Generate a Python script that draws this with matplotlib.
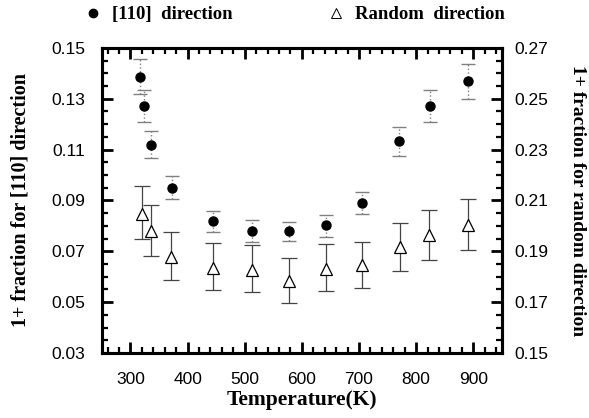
import matplotlib
matplotlib.use("Agg")
import matplotlib.pyplot as plt
from matplotlib.lines import Line2D
from matplotlib.ticker import MultipleLocator, FormatStrFormatter
import numpy as np

# [110] direction (left axis)
circ_T = [316, 323, 336, 372, 445, 513, 578, 643, 706, 770, 825, 891]
circ_val = [0.1387, 0.1273, 0.1118, 0.0950, 0.0818, 0.0780, 0.0778, 0.0802, 0.0890, 0.1135, 0.1270, 0.1368]
circ_hi = [0.1457, 0.1335, 0.1175, 0.0995, 0.0860, 0.0822, 0.0815, 0.0841, 0.0933, 0.1188, 0.1334, 0.1436]
circ_lo = [0.1320, 0.1210, 0.1065, 0.0904, 0.0775, 0.0737, 0.0740, 0.0756, 0.0845, 0.1076, 0.1207, 0.1299]

# Random direction (right axis)
tri_T = [321, 336, 371, 445, 513, 578, 643, 706, 772, 823, 891]
tri_val = [0.2048, 0.1980, 0.1878, 0.1836, 0.1828, 0.1782, 0.1832, 0.1845, 0.1917, 0.1963, 0.2005]
tri_hi = [0.2155, 0.2083, 0.1976, 0.1933, 0.1924, 0.1874, 0.1927, 0.1937, 0.2011, 0.2061, 0.2107]
tri_lo = [0.1950, 0.1883, 0.1789, 0.1747, 0.1740, 0.1695, 0.1744, 0.1754, 0.1823, 0.1865, 0.1907]

x_ticks = [300, 400, 500, 600, 700, 800, 900]
left_ticks = [0.03, 0.05, 0.07, 0.09, 0.11, 0.13, 0.15]
right_ticks = [0.15, 0.17, 0.19, 0.21, 0.23, 0.25, 0.27]

serif = "Liberation Serif"
sans = "Liberation Sans"

fig = plt.figure(figsize=(5.89, 4.18), dpi=100)
ax = fig.add_axes([0.173, 0.1555, 0.679, 0.730])
ax2 = ax.twinx()

cv = np.array(circ_val)
eb1 = ax.errorbar(circ_T, cv, yerr=[cv - np.array(circ_lo), np.array(circ_hi) - cv],
                  fmt='o', color='black', markersize=6.5, ecolor='#808080',
                  elinewidth=1.0, capsize=5, capthick=1.0, linestyle='none', zorder=3)
for c in eb1.lines[2]:
    c.set_linestyle(':')

tv = np.array(tri_val)
ax2.errorbar(tri_T, tv, yerr=[tv - np.array(tri_lo), np.array(tri_hi) - tv],
             fmt='^', color='black', markerfacecolor='white', markeredgecolor='black',
             markersize=8, markeredgewidth=0.9, ecolor='#444444',
             elinewidth=0.9, capsize=6, capthick=1.0, linestyle='none', zorder=3)

ax.set_xlim(250, 950)
ax.set_ylim(0.03, 0.15)
ax2.set_ylim(0.15, 0.27)

ax.set_xticks(x_ticks)
ax.xaxis.set_minor_locator(MultipleLocator(20))
ax.set_yticks(left_ticks)
ax.yaxis.set_minor_locator(MultipleLocator(0.005))
ax.yaxis.set_major_formatter(FormatStrFormatter('%.2f'))
ax2.set_yticks(right_ticks)
ax2.yaxis.set_minor_locator(MultipleLocator(0.005))
ax2.yaxis.set_major_formatter(FormatStrFormatter('%.2f'))

for a in (ax, ax2):
    for s in a.spines.values():
        s.set_linewidth(2.2)
ax.tick_params(axis='both', which='major', direction='in', length=8, width=2.0,
               top=True, labelsize=12.5)
ax.tick_params(axis='x', which='major', pad=14)
ax.tick_params(axis='y', which='major', pad=12)
ax.tick_params(axis='both', which='minor', direction='in', length=4.5, width=1.6, top=True)
ax.tick_params(axis='y', which='both', right=False)
ax2.tick_params(axis='y', which='major', direction='in', length=8, width=2.0, labelsize=12.5, pad=9)
ax2.tick_params(axis='y', which='minor', direction='in', length=4.5, width=1.6)
for lab in ax.get_xticklabels() + ax.get_yticklabels() + ax2.get_yticklabels():
    lab.set_fontfamily(sans)

ax.set_xlabel('Temperature(K)', fontfamily=serif, fontweight='bold', fontsize=15.5, labelpad=2)
ax.set_ylabel('1+ fraction for [110] direction', fontfamily=serif, fontweight='bold',
              fontsize=14.5, labelpad=15)
ax2.set_ylabel('1+ fraction for random direction', fontfamily=serif, fontweight='bold',
               fontsize=14, rotation=270, labelpad=27)

handles = [Line2D([], [], marker='o', color='black', linestyle='none', markersize=6),
           Line2D([], [], marker='^', color='black', markerfacecolor='white',
                  linestyle='none', markersize=7, markeredgewidth=0.7)]
fig.legend(handles, ['[110]  direction', 'Random  direction'], ncol=2, loc='center left',
           bbox_to_anchor=(0.114, 0.965), frameon=False, handlelength=1.0,
           handletextpad=0.5, columnspacing=5.0,
           prop={'family': serif, 'weight': 'bold', 'size': 13.5})

fig.savefig('out.png', dpi=100)
